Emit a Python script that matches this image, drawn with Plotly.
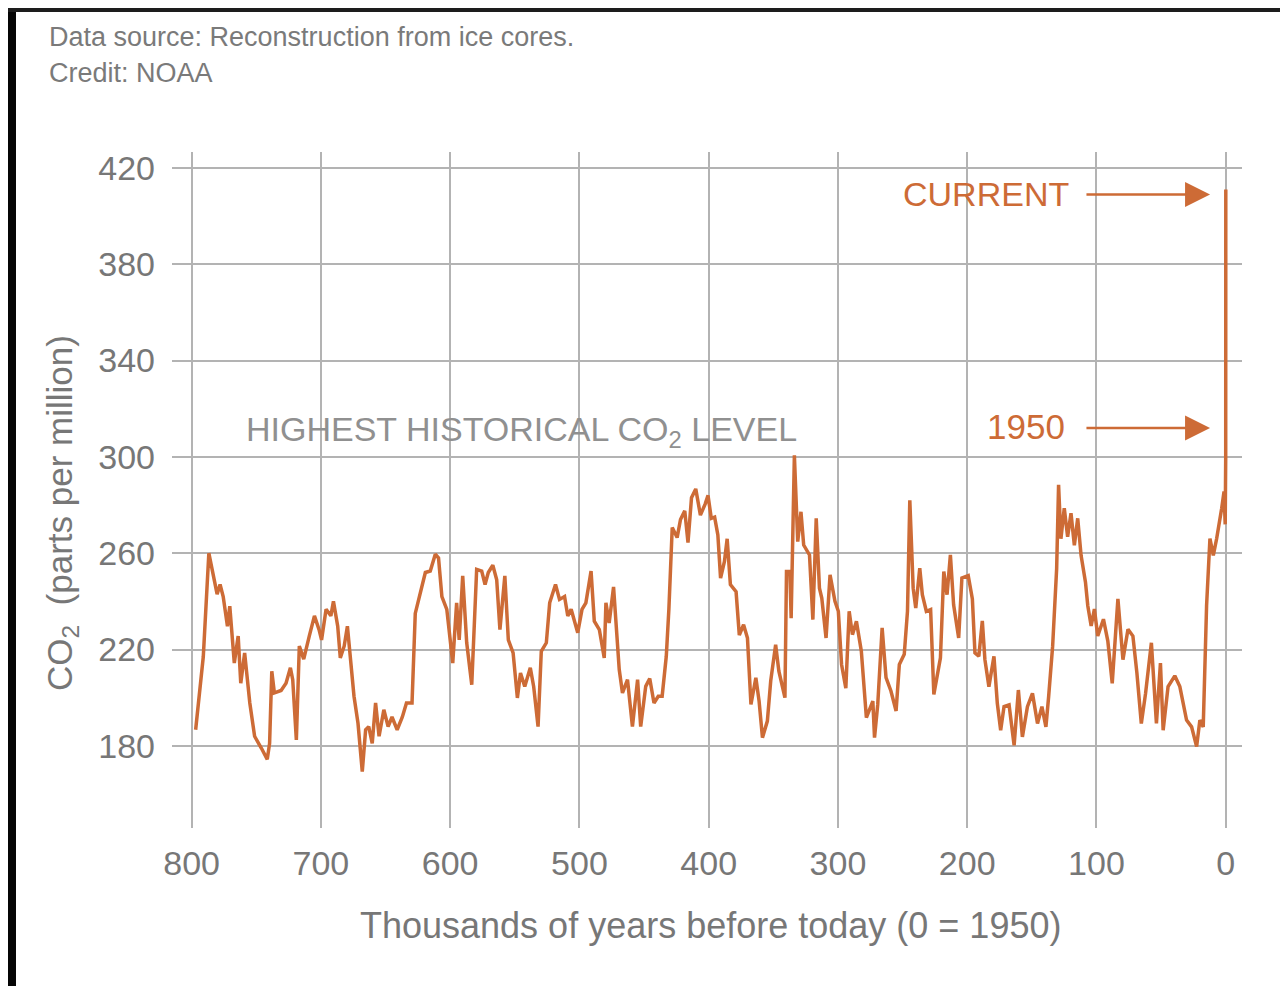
import plotly.graph_objects as go

# Thousands of years before 1950 (negative = after 1950) and CO2 ppm
kyr = [796.9, 791, 786.7, 782, 780.3, 778, 775.6, 772.3, 770.5, 767, 764, 762, 759, 755, 751.3,
       746, 741.5, 739.7, 738, 736, 730.8, 727, 723.6, 721.8, 719, 716.7, 713.3, 709, 705, 701.3,
       699.5, 696, 692.3, 690.3, 687, 685, 682, 679.5, 677, 674.4, 671.3, 668, 665.4, 663, 660.3,
       657.7, 655, 651.3, 648, 645, 641, 637, 633.8, 629.5, 627, 623, 619.2, 615.4, 611.5, 609,
       606.4, 602.6, 598, 595, 593, 590.3, 587.2, 583.3, 579.5, 575.6, 573, 570.5, 567, 564,
       561.5, 557.7, 555, 551.3, 548, 545.6, 542.3, 538, 535.4, 532, 529.5, 525.6, 523, 518.5,
       515.4, 511.5, 509, 506.4, 501.3, 498, 495, 491, 488.5, 484.6, 480.8, 479.5, 477, 473.6,
       471.3, 469.2, 466.7, 462.8, 459, 455, 452.6, 448.7, 445.6, 442.3, 439, 436, 432.8, 430.8,
       428.2, 424.4, 421.8, 418.5, 416, 413.3, 410, 406.4, 402.6, 400.5, 398, 395.4, 392.9,
       390.8, 387.8, 385.7, 383.2, 378.8, 376.3, 373, 370, 367.3, 363.5, 361, 358.4, 354.6, 352,
       348.2, 345.7, 341, 339.8, 337.2, 336.2, 333.7, 331.1, 328.6, 326.5, 322, 319.4, 316.8,
       314.3, 312.5, 309.2, 306.1, 302.3, 299.7, 297.2, 293.9, 291.3, 288.8, 285.7, 281.9, 278,
       273, 271.7, 269.2, 265.8, 262.8, 259, 255, 252.5, 248.7, 246.2, 244.4, 241.8, 239.8,
       236.7, 234.7, 231.6, 228.3, 225.8, 220.7, 218.1, 215.6, 213, 210.5, 206.6, 204.1, 199.2,
       196, 194, 191, 188.3, 186.3, 183.2, 179.3, 176.7, 174.1, 171.5, 167.6, 163.7, 160.4,
       157.3, 153.4, 149.5, 145.6, 142.2, 139.1, 137, 133.9, 130.8, 129.3, 127.5, 124.9, 122.3,
       119.7, 117.1, 114.5, 111.9, 108.5, 106.7, 104.1, 101.6, 99, 94.6, 91.2, 87.8, 83.4, 79.5,
       75.6, 71.8, 68.7, 65.3, 62, 57.5, 53.6, 50.5, 48.4, 44.6, 39.4, 35.5, 30.3, 26.4, 22.5,
       20, 17.4, 14.8, 12.2, 9.6, 7, 3.1, 1.3, 0.4, 0.0, -0.07]
co2 = [186.7, 217, 260, 246.4, 243, 247, 242, 229.7, 238, 214.4, 225.6, 206, 218.6, 197.8, 184,
       179, 174.4, 181, 211, 202, 203, 206, 212.4, 207.5, 182.5, 221.4, 216, 225.6, 234, 228,
       224, 236.7, 234, 240, 229.7, 216.5, 221.4, 229.7, 214.4, 200.6, 189.4, 169.3, 186.7, 188,
       181, 197.8, 184, 195, 188, 192, 186.7, 192, 197.8, 197.8, 235, 243.6, 252, 252.6, 259.6,
       258, 242, 236.7, 214.4, 239.4, 224, 250.6, 222.8, 205.4, 253.3, 252.6, 247, 252, 255, 249,
       228.3, 250.6, 224, 218.6, 199.9, 210.3, 204.7, 212.4, 204.7, 188, 219.3, 222.8, 239.4, 247,
       240.8, 242, 233.9, 236.7, 227, 236.7, 239.4, 252.6, 231.8, 228.3, 216.5, 239.4, 231, 246,
       228.3, 211.7, 202, 207.5, 188, 207.5, 188, 204.7, 208, 197.8, 200.6, 200.6, 217.2, 236.7,
       270.7, 266.5, 274, 277.6, 264.4, 283, 286.7, 275.8, 280.6, 284, 274.5, 275, 267.6,
       249.7, 256.6, 266, 247, 244, 226, 230.3, 224.8, 197.2, 208.3, 198.6, 183.4, 190.3, 207,
       222, 211, 200, 252.4, 252.4, 233, 300.7, 264.8, 277.2, 263.4, 259.3, 232.4, 274.5,
       245.5, 241.4, 224.8, 251, 240, 235.9, 213.8, 204, 235.9, 226.2, 231.7, 219.3, 191.7,
       198.6, 183.4, 197.2, 229, 208.3, 202.8, 194.5, 213.8, 218, 235.9, 282, 245.5, 237.2,
       253.8, 242.8, 235.9, 236.6, 201.4, 216.6, 252.4, 242.8, 259.3, 238.6, 224.8, 249.7, 250.7,
       241, 218.6, 217.2, 231.9, 215.8, 204.6, 217.2, 197.7, 186.5, 196.3, 197, 180.2, 203.2,
       183.7, 196.3, 201.8, 189.3, 196.3, 187.9, 200.4, 221.4, 253.5, 288.4, 266, 278.7, 266.8,
       276.6, 263.3, 274.5, 259.1, 248, 238.2, 229.8, 236.8, 225.6, 232.6, 223.5, 206, 241, 215.8,
       228.4, 225.6, 210.2, 189.3, 201.8, 222.8, 189.3, 214.4, 186.5, 204.6, 209.1, 204.6, 190.7, 187.9, 179.7,
       190.7, 187.9, 238.2, 266.1, 259.1, 266.1, 278.7, 285.6, 272, 300, 411]

x_ticks = [800, 700, 600, 500, 400, 300, 200, 100, 0]
y_ticks = [180, 220, 260, 300, 340, 380, 420]
highest_level = 300
current_level = 409
level_1950 = 312

ORANGE = "#CD6B36"
GRID = "#b3b3b3"
TICKC = "#777777"
FONT = "Liberation Sans, Arial, sans-serif"

fig = go.Figure()
fig.add_trace(go.Scatter(x=kyr, y=co2, mode="lines",
                         line=dict(color=ORANGE, width=3.5), hoverinfo="skip",
                         showlegend=False))

# dashed "highest historical" level
fig.add_shape(type="line", xref="x", yref="y", x0=815.2, x1=-4.9,
              y0=highest_level, y1=highest_level,
              line=dict(color="#aaaaaa", width=2, dash="7px,5px"), layer="below")

# dark frame of the screenshot
fig.add_shape(type="rect", xref="paper", yref="paper", x0=-0.17, x1=-0.1458,
              y0=-0.25, y1=1.24, fillcolor="#050505", line=dict(width=0))
fig.add_shape(type="rect", xref="paper", yref="paper", x0=-0.17, x1=1.06,
              y0=1.2071, y1=1.24, fillcolor="#1d1d1d", line=dict(width=0))

# arrows
for yv in (current_level, level_1950):
    fig.add_annotation(x=12.1, y=yv, ax=108.9, ay=yv, xref="x", yref="y",
                       axref="x", ayref="y", text="", showarrow=True,
                       arrowhead=2, arrowsize=2.0, arrowwidth=2.5, arrowcolor=ORANGE)

fig.add_annotation(x=119.7, y=current_level, xref="x", yref="y", text="CURRENT",
                   showarrow=False, xanchor="right", yanchor="middle",
                   font=dict(family=FONT, size=34, color=ORANGE))
fig.add_annotation(x=122.8, y=level_1950 + 0.5, xref="x", yref="y", text="1950",
                   showarrow=False, xanchor="right", yanchor="middle",
                   font=dict(family=FONT, size=35, color=ORANGE))
fig.add_annotation(x=545.2, y=310.4, xref="x", yref="y",
                   text="HIGHEST HISTORICAL CO<sub>2</sub> LEVEL",
                   showarrow=False, xanchor="center", yanchor="middle",
                   font=dict(family=FONT, size=34, color="#909090"))

# axis titles
fig.add_annotation(x=0.5037, y=-0.1435, xref="paper", yref="paper",
                   text="Thousands of years before today (0 = 1950)",
                   showarrow=False, xanchor="center", yanchor="middle",
                   font=dict(family=FONT, size=36, color=TICKC))
fig.add_annotation(x=-0.1028, y=0.466, xref="paper", yref="paper",
                   text="CO<sub>2</sub>  (parts per million)", textangle=-90,
                   showarrow=False, xanchor="center", yanchor="middle",
                   font=dict(family=FONT, size=35, color=TICKC))

# source text
fig.add_annotation(x=-0.1168, y=1.1701, xref="paper", yref="paper",
                   text="Data source: Reconstruction from ice cores.",
                   showarrow=False, xanchor="left", yanchor="middle",
                   font=dict(family=FONT, size=27, color="#7a7a7a"))
fig.add_annotation(x=-0.1168, y=1.1169, xref="paper", yref="paper",
                   text="Credit: NOAA",
                   showarrow=False, xanchor="left", yanchor="middle",
                   font=dict(family=FONT, size=27, color="#7a7a7a"))

fig.update_xaxes(range=[815.2, -12.6], tickvals=x_ticks,
                 ticktext=[str(v) for v in x_ticks], showgrid=True,
                 gridcolor=GRID, gridwidth=2, zeroline=False, showline=False,
                 ticks="", ticklabelstandoff=12,
                 tickfont=dict(family=FONT, size=34, color=TICKC))
fig.update_yaxes(range=[145.9, 426.6], tickvals=y_ticks,
                 ticktext=[str(v) for v in y_ticks], showgrid=True,
                 gridcolor=GRID, gridwidth=2, zeroline=False, showline=False,
                 ticks="", ticklabelstandoff=16,
                 tickfont=dict(family=FONT, size=34, color=TICKC))

# the page has an 8px body margin, so the figure is 8px smaller and shifted
fig.update_layout(width=1280, height=978,
                  margin=dict(l=164, r=46, t=144, b=158, autoexpand=False),
                  paper_bgcolor="white", plot_bgcolor="white",
                  showlegend=False)

fig.write_html("out.html")
